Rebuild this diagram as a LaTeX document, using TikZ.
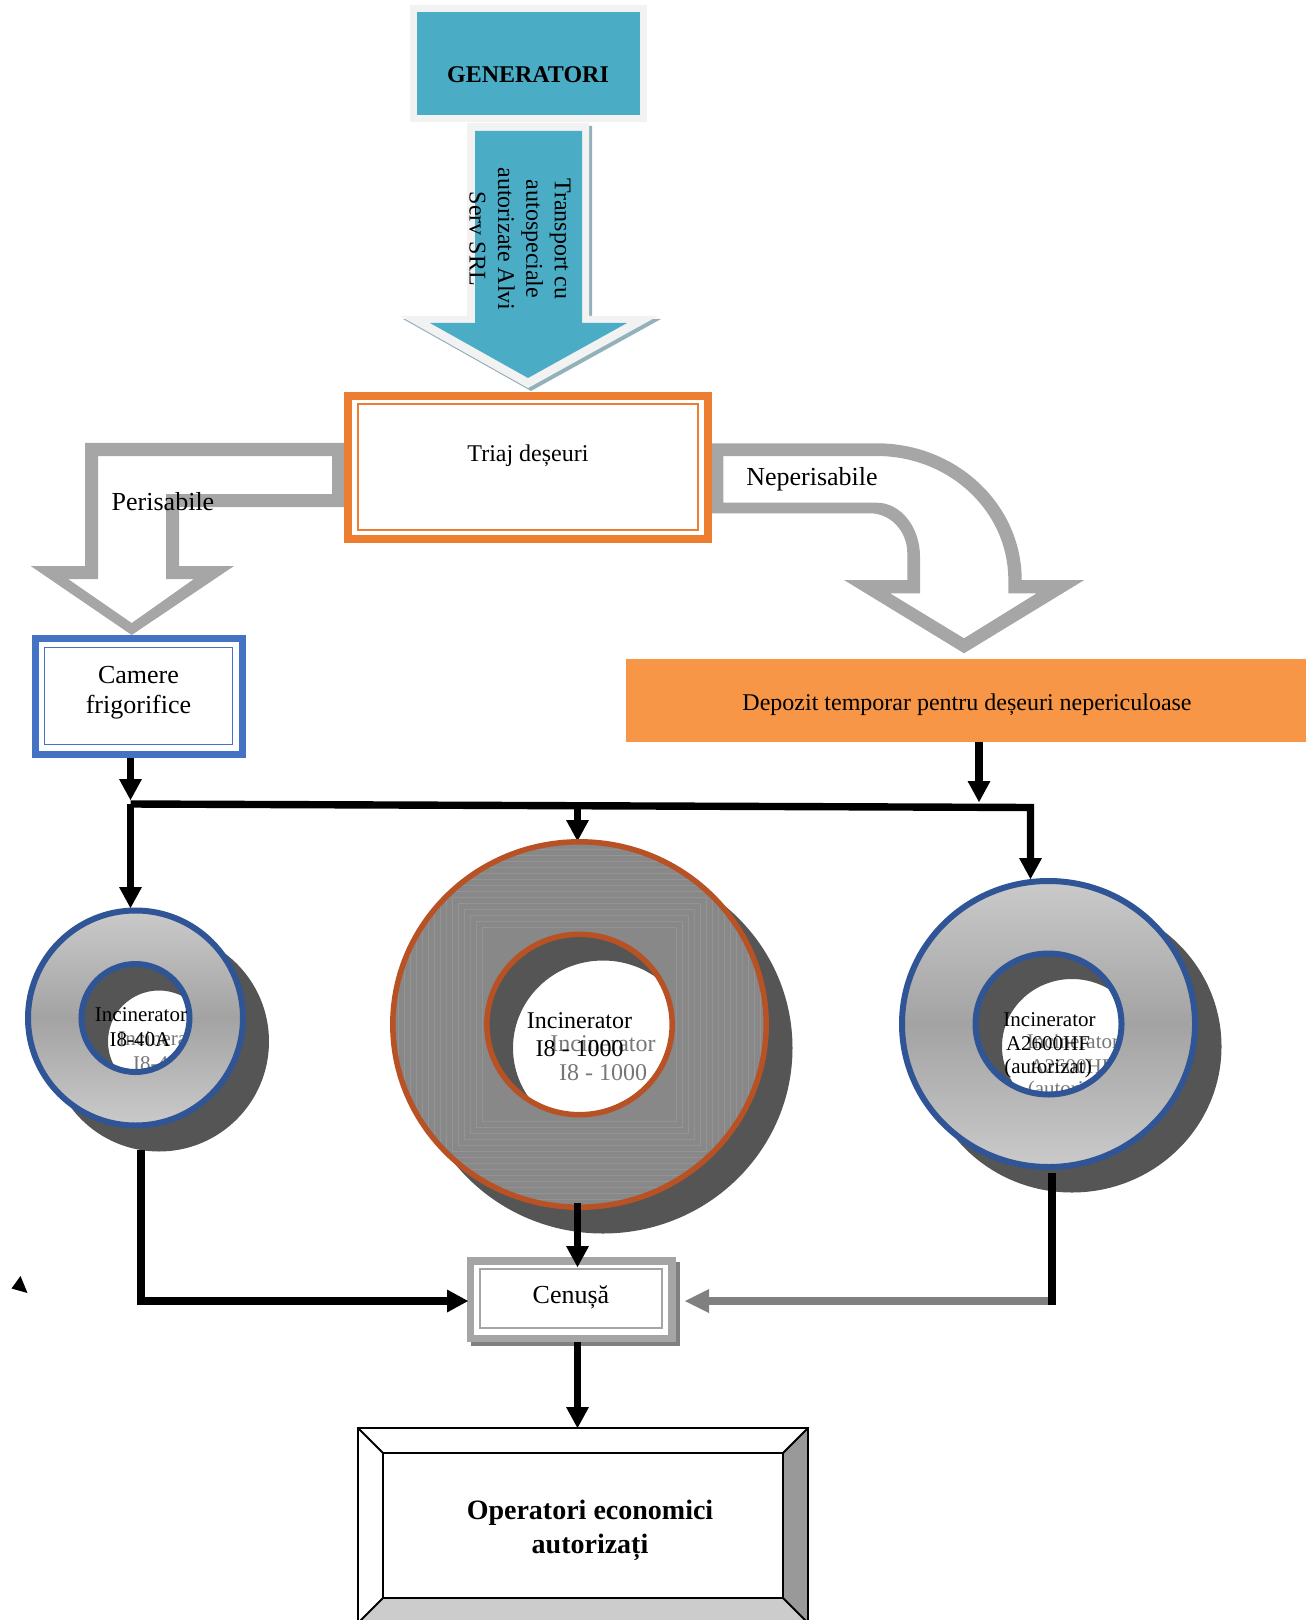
\documentclass[tikz,border=0pt]{standalone}
\usepackage{fontspec}
\setmainfont{Liberation Serif}
\usetikzlibrary{arrows.meta,calc}
\definecolor{tealc}{RGB}{75,172,198}
\definecolor{genframe}{RGB}{242,242,242}
\definecolor{arrshadow}{RGB}{147,177,187}
\definecolor{trorange}{RGB}{237,125,49}
\definecolor{depo}{RGB}{247,150,70}
\definecolor{camblue}{RGB}{68,114,196}
\definecolor{ringblue}{RGB}{47,85,151}
\definecolor{ringbrown}{RGB}{184,82,36}
\definecolor{shadowgray}{RGB}{85,85,85}
\definecolor{bigarr}{RGB}{166,166,166}
\definecolor{cenframe}{RGB}{165,165,165}
\definecolor{censhadow}{RGB}{128,128,128}
\definecolor{grayarr}{RGB}{128,128,128}
\definecolor{midring}{RGB}{136,136,136}
\definecolor{midline}{RGB}{158,158,158}
\definecolor{ringlight}{RGB}{202,202,202}
\definecolor{ringmid}{RGB}{163,163,163}
\definecolor{ghost}{RGB}{118,118,118}
\definecolor{bevelright}{RGB}{153,153,153}
\definecolor{bevelbottom}{RGB}{204,204,204}
\begin{document}
\begin{tikzpicture}[x=0.5pt,y=-0.5pt,
  conn/.style={line width=3.7pt,-{Triangle[width=11.5pt,length=10.5pt,line width=0pt]}},
  gconn/.style={line width=3.7pt,draw=grayarr,color=grayarr,-{Triangle[width=12pt,length=12pt,line width=0pt]}},
  t12/.style={inner sep=0pt,anchor=base,font=\fontsize{12}{14}\selectfont},
  t13/.style={inner sep=0pt,anchor=base,font=\fontsize{13}{15}\selectfont},
  tsm/.style={inner sep=0pt,anchor=base,font=\fontsize{10.5}{12}\selectfont},
  b12/.style={inner sep=0pt,anchor=base,font=\bfseries\fontsize{12}{14}\selectfont},
  b14/.style={inner sep=0pt,anchor=base,font=\bfseries\fontsize{14}{17}\selectfont},
  gh/.style={text=ghost}]
\useasboundingbox (0,0) rectangle (1314,1620);

% ---------- GENERATORI ----------
\node[draw=genframe, fill=tealc, line width=3.5pt, minimum width=115pt, minimum height=55pt, inner sep=0pt] (gen) at (528.5,63.5) {};
\node[b12] (gentext) at (528,82.7) {GENERATORI};

% transport arrow
\fill[arrshadow] (470,126) -- (592,126) -- (592,319) -- (661,319) -- (531,391) -- (403,319) -- (470,319) -- cycle;
\fill[genframe] (467,123) -- (589,123) -- (589,316) -- (658,316) -- (528,388) -- (400,316) -- (467,316) -- cycle;
\fill[tealc] (475,131) -- (582,131) -- (582,323) -- (627,323) -- (528,378) -- (430,323) -- (475,323) -- cycle;
\node[rotate=-90, align=center, inner sep=0pt, font=\fontsize{12}{14.2}\selectfont] (transtext) at (520,239) {Transport cu\\autospeciale\\autorizate Alvi\\Serv SRL};

% ---------- bent arrows ----------
\fill[bigarr, even odd rule] (346,443) -- (85,443) -- (85,566) -- (30.7,566) -- (131.7,635) -- (234,566) -- (179,566) -- (179,507) -- (346,507) -- cycle
  (332,456) -- (98,456) -- (98,579) -- (68,579) -- (131.7,623) -- (194,579) -- (166,579) -- (166,494) -- (332,494) -- cycle;
\fill[bigarr, even odd rule] (710.7,443.3) -- (876.7,443.3) .. controls (956.8,443.3) and (1021.7,504.5) .. (1021.7,580) -- (1084.3,580) -- (964,653.3) -- (844,580) -- (907.3,580) -- (907.3,553.3) .. controls (907.3,531.2) and (890.6,513.3) .. (870,513.3) -- (710.7,513.3) -- cycle
  (723.3,456) -- (876.7,456) .. controls (949.4,456) and (1008.3,511.5) .. (1008.3,580) -- (1008.3,593.3) -- (1036.7,593.3) -- (964,638.3) -- (890,593.3) -- (920,593.3) -- (920,556.7) .. controls (920,526.9) and (900.6,502.7) .. (876.7,502.7) -- (723.3,502.7) -- cycle;

% ---------- Triaj ----------
\node[draw=trorange, fill=white, line width=4pt, minimum width=180pt, minimum height=71.5pt, inner sep=0pt] (triaj) at (528,467.5) {};
\draw[trorange, line width=0.6pt] (358,404) rectangle (698,530);
\node[t12] (triajtext) at (528,461.7) {Triaj deșeuri};

\node[t13] (peris) at (163,510) {Perisabile};
\node[t13] (neperis) at (812,485) {Neperisabile};

% ---------- Camere ----------
\node[draw=camblue, fill=white, line width=3.35pt, minimum width=103.5pt, minimum height=58.2pt, inner sep=0pt] (camere) at (138.8,696.5) {};
\draw[camblue, line width=0.6pt] (44.3,647.7) rectangle (232.3,744.3);
\node[t13] (cam1) at (138.5,683) {Camere};
\node[t13] (cam2) at (138.5,713) {frigorifice};

% ---------- Depozit ----------
\node[fill=depo, minimum width=340pt, minimum height=41.5pt, inner sep=0pt] (depo) at (966,700.5) {};
\node[t12] (depotext) at (967,710.7) {Depozit temporar pentru deșeuri nepericuloase};

% ---------- coordinates ----------
\coordinate (busL) at (130.5,804);
\coordinate (busLtop) at (130.5,800);
\coordinate (busR) at (1030.5,807.5);
\coordinate (busM) at (577.5,805.8);
\coordinate (busD) at (979,802);
\coordinate (inc1N) at (130.5,908);
\coordinate (inc2N) at (577.5,841);
\coordinate (inc3N) at (1030.5,879);

% top connectors
\draw[conn] (camere.south -| busL) -- (busLtop);
\draw[conn] (depo.south -| busD) -- (busD);
\draw[conn] (busL) -- (busR) -- (inc3N);
\draw[conn] (busL) -- (inc1N);
\draw[conn] (busM) -- (inc2N);

% ---------- Incinerator I8-40A ----------
\coordinate (inc1) at (135.5,1018);
\coordinate (inc1s) at (159,1041.5);
\fill[shadowgray, even odd rule] (inc1s) circle[radius=55pt] (inc1s) circle[radius=25.5pt];
\begin{scope}
  \clip (inc1s) circle[radius=25.5pt];
  \node[tsm, gh] (inc1ga) at (164.5,1045.2) {Incinerator};
  \node[tsm, gh] (inc1gb) at (163.5,1070.2) {I8-40A};
\end{scope}
\path[even odd rule, top color=ringlight, bottom color=ringlight, middle color=ringmid] (inc1) circle[radius=53.75pt] (inc1) circle[radius=27pt];
\draw[ringblue, line width=3pt] (inc1) circle[radius=53.75pt] (inc1) circle[radius=27pt];
\node[tsm] (inc1a) at (141,1021.7) {Incinerator};
\node[tsm] (inc1b) at (140,1046.7) {I8-40A};

% ---------- Incinerator I8 - 1000 ----------
\coordinate (inc2) at (579.5,1024.5);
\coordinate (inc2s) at (603,1048);
\fill[shadowgray, even odd rule] (inc2s) ellipse[x radius=94.75pt, y radius=92.75pt] (inc2s) ellipse[x radius=45pt, y radius=43.75pt];
\begin{scope}
  \clip (inc2s) ellipse[x radius=45pt, y radius=43.75pt];
  \node[t12, gh] (inc2ga) at (603,1051.5) {Incinerator};
  \node[t12, gh] (inc2gb) at (603,1080.2) {I8 - 1000};
\end{scope}
\fill[midring, even odd rule] (inc2) ellipse[x radius=93.35pt, y radius=91.35pt] (inc2) ellipse[x radius=46.35pt, y radius=45.1pt];
\begin{scope}
  \clip (inc2) ellipse[x radius=93.35pt, y radius=91.35pt];
  \foreach \h in {97,103,...,187} {
    \draw[midline, line width=0.35pt, opacity=0.55] ($(inc2)+(-\h,-\h)$) rectangle ($(inc2)+(\h,\h)$);
  }
\end{scope}
\draw[ringbrown, line width=2.75pt] (inc2) ellipse[x radius=93.35pt, y radius=91.35pt] (inc2) ellipse[x radius=46.35pt, y radius=45.1pt];
\node[t12] (inc2a) at (579.5,1028) {Incinerator};
\node[t12] (inc2b) at (579.5,1056.7) {I8 - 1000};

% ---------- Incinerator A2600HF ----------
\coordinate (inc3) at (1048.5,1024);
\coordinate (inc3s) at (1072,1046.5);
\fill[shadowgray, even odd rule] (inc3s) ellipse[x radius=74.75pt, y radius=73pt] (inc3s) ellipse[x radius=35pt, y radius=33.75pt];
\begin{scope}
  \clip (inc3s) ellipse[x radius=35pt, y radius=33.75pt];
  \node[tsm, gh] (inc3ga) at (1073,1048.5) {Incinerator};
  \node[tsm, gh] (inc3gb) at (1071.5,1073.2) {A2600HF};
  \node[tsm, gh] (inc3gc) at (1071.5,1095.5) {(autorizat)};
\end{scope}
\path[even odd rule, top color=ringlight, bottom color=ringlight, middle color=ringmid] (inc3) ellipse[x radius=73.25pt, y radius=71.5pt] (inc3) ellipse[x radius=36.5pt, y radius=35.25pt];
\draw[ringblue, line width=3pt] (inc3) ellipse[x radius=73.25pt, y radius=71.5pt] (inc3) ellipse[x radius=36.5pt, y radius=35.25pt];
\node[tsm] (inc3a) at (1049.5,1026) {Incinerator};
\node[tsm] (inc3b) at (1048,1050.7) {A2600HF};
\node[tsm] (inc3c) at (1048,1073) {(autorizat)};

% ---------- Cenusa ----------
\fill[censhadow] (470.6,1262) rectangle (680,1346);
\node[draw=cenframe, fill=white, line width=3.75pt, minimum width=100.75pt, minimum height=38.75pt, inner sep=0pt] (cenusa) at (571,1299.5) {};
\draw[cenframe, line width=0.6pt] (480,1269) rectangle (662,1328);
\node[t13] (centext) at (571,1303) {Cenușă};

% bottom connectors
\coordinate (inc1S) at (141,1150);
\coordinate (inc2S) at (577.5,1203);
\coordinate (inc3S) at (1052,1173);
\coordinate (inc3end) at (1052,1305);
\coordinate (grayStart) at (1048,1301);
\coordinate (cenE) at (685,1301);
\coordinate (cenW) at (468,1301);
\coordinate (cenN) at (577.5,1267);
\coordinate (operN) at (577.5,1428);
\draw[conn] (inc1S) |- (cenW);
\draw[conn] (inc2S) -- (cenN);
\draw[gconn] (grayStart) -- (cenE);
\draw[line width=3.7pt] (inc3S) -- (inc3end);
\draw[conn] (cenusa.south -| inc2S) -- (operN);

% stray tip
\fill (20.5,1276) -- (11.5,1288.5) -- (27.5,1293) -- cycle;

% ---------- Operatori ----------
\fill[bevelright] (808,1428) -- (808,1623) -- (783,1598) -- (783,1453) -- cycle;
\fill[bevelbottom] (358,1623) -- (808,1623) -- (783,1598) -- (383,1598) -- cycle;
\draw[line width=1pt] (358,1428) rectangle (808,1623);
\draw[line width=1pt] (383,1453) rectangle (783,1598);
\draw[line width=1pt] (358,1428) -- (383,1453) (808,1428) -- (783,1453) (358,1623) -- (383,1598) (808,1623) -- (783,1598);
\node[b14] (oper1) at (590,1519) {Operatori economici};
\node[b14] (oper2) at (590,1553) {autorizați};
\end{tikzpicture}
\end{document}
